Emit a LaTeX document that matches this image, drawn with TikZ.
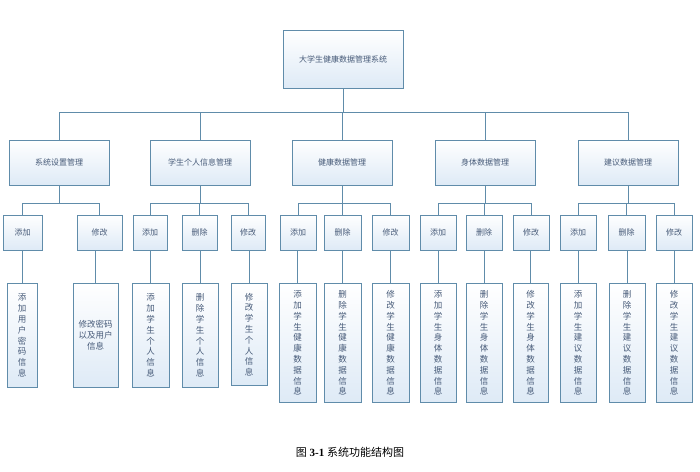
\documentclass[tikz,border=0pt]{standalone}
\usepackage{fontspec}
\setmainfont{Liberation Serif}
\newfontfamily\cjk{Noto Sans CJK SC}
\usetikzlibrary{positioning}
\definecolor{lineblue}{RGB}{96,140,170}
\definecolor{textblue}{RGB}{70,90,120}
\definecolor{fillblue}{RGB}{222,234,246}
\tikzset{
  box/.style={draw=lineblue, line width=1pt, top color=white, bottom color=fillblue,
    text=textblue, font=\cjk\fontsize{8}{12.5}\selectfont, align=center,
    inner sep=1pt},
  tallbox/.style={box, font=\cjk\fontsize{8.5}{10.8}\selectfont},
  link/.style={draw=lineblue, line width=1pt}
}
\begin{document}
\begin{tikzpicture}[x=1pt,y=-1pt]
\useasboundingbox (0,0) rectangle (700,471);
% top
\node[box, minimum width=120pt, minimum height=58pt] (sys) at (343,59) {大学生健康数据管理系统};
% level 1
\foreach \n/\x/\t in {ma/59/系统设置管理, mb/200/学生个人信息管理, mc/342/健康数据管理,
  md/485/身体数据管理, me/628/建议数据管理}
  \node[box, minimum width=100pt, minimum height=45pt] (\n) at (\x,162.5) {\t};
\foreach \n in {ma,mb,mc,md,me}
  \draw[link] (sys.south) -- ++(0,24) -| (\n.north);
% level 2 and level 3
\foreach \p/\n/\x/\w/\t/\xx/\ww/\hh/\tt in {
  ma/aa/22.5/39/添加/22/30/104/添\\加\\用\\户\\密\\码\\信\\息,
  ma/ab/99.5/45/修改/95.5/45/104/修改密码\\以及用户\\信息,
  mb/ba/150/34/添加/150.5/37/104/添\\加\\学\\生\\个\\人\\信\\息,
  mb/bb/199.5/35/删除/200/36/104/删\\除\\学\\生\\个\\人\\信\\息,
  mb/bc/248/34/修改/249/36/102/修\\改\\学\\生\\个\\人\\信\\息,
  mc/ca/298/36/添加/297.5/37/119/添\\加\\学\\生\\健\\康\\数\\据\\信\\息,
  mc/cb/342.5/37/删除/342.5/37/119/删\\除\\学\\生\\健\\康\\数\\据\\信\\息,
  mc/cc/390.5/37/修改/390.5/37/119/修\\改\\学\\生\\健\\康\\数\\据\\信\\息,
  md/da/438/36/添加/438/36/119/添\\加\\学\\生\\身\\体\\数\\据\\信\\息,
  md/db/484/36/删除/484/36/119/删\\除\\学\\生\\身\\体\\数\\据\\信\\息,
  md/dc/531/36/修改/530.5/35/119/修\\改\\学\\生\\身\\体\\数\\据\\信\\息,
  me/ea/578/36/添加/578/36/119/添\\加\\学\\生\\建\\议\\数\\据\\信\\息,
  me/eb/626.5/37/删除/627/36/119/删\\除\\学\\生\\建\\议\\数\\据\\信\\息,
  me/ec/674/36/修改/674/36/119/修\\改\\学\\生\\建\\议\\数\\据\\信\\息}
{
  \node[box, minimum width=\w pt, minimum height=35pt] (\n) at (\x,232.5) {\t};
  \draw[link] (\p.south) -- ++(0,18) -| (\n.north);
  \node[tallbox, minimum width=\ww pt, minimum height=\hh pt, anchor=north] (\n t) at (\xx,283) {\tt};
  \draw[link] (\n t.north) -- (\n t.north |- \n.south);
}
\node[font=\fontsize{11}{13}\selectfont] (cap) at (350,452) {{\cjk 图} \textbf{3-1} {\cjk 系统功能结构图}};
\end{tikzpicture}
\end{document}
